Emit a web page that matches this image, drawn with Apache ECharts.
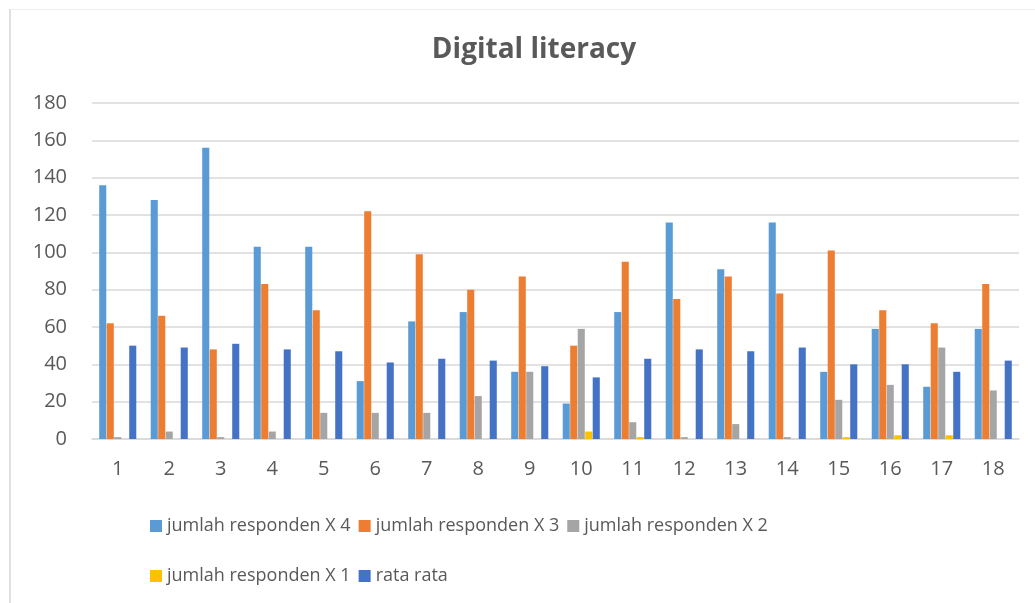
<!DOCTYPE html>
<html>
<head>
<meta charset="utf-8">
<script src="https://cdn.jsdelivr.net/npm/echarts@6/dist/echarts.min.js"></script>
<style>
  html, body { margin: 0; padding: 0; background: #fff; }
  #frame { position: absolute; left: 9px; top: 9px; right: 0; bottom: 0;
           border-left: 2px solid #e0e0e0; border-top: 1px solid #eeeeee; }
  #chart { position: absolute; left: 0; top: 0; width: 1035px; height: 603px; }
</style>
</head>
<body>
<div id="frame"></div>
<div id="chart"></div>
<script>
// categories (question number)
var categories = ['1', '2', '3', '4', '5', '6', '7', '8', '9', '10', '11', '12', '13', '14', '15', '16', '17', '18'];

// series values
var respX4 = [136, 128, 156, 103, 103, 31, 63, 68, 36, 19, 68, 116, 91, 116, 36, 59, 28, 59];
var respX3 = [62, 66, 48, 83, 69, 122, 99, 80, 87, 50, 95, 75, 87, 78, 101, 69, 62, 83];
var respX2 = [1, 4, 1, 4, 14, 14, 14, 23, 36, 59, 9, 1, 8, 1, 21, 29, 49, 26];
var respX1 = [0, 0, 0, 0, 0, 0, 0, 0, 0, 4, 1, 0, 0, 0, 1, 2, 2, 0];
var rataRata = [50, 49, 51, 48, 47, 41, 43, 42, 39, 33, 43, 48, 47, 49, 40, 40, 36, 42];

var names = ['jumlah responden X 4', 'jumlah responden X 3', 'jumlah responden X 2', 'jumlah responden X 1', 'rata rata'];
var colors = ['#5B9BD5', '#ED7D31', '#A5A5A5', '#FFC000', '#4472C4'];
var allData = [respX4, respX3, respX2, respX1, rataRata];

var textColor = '#595959';
var font = 'Open Sans';

var chartDom = document.getElementById('chart');
var myChart = echarts.init(chartDom);
var option;

var series = [];
for (var i = 0; i < names.length; i++) {
  series.push({
    name: names[i],
    type: 'bar',
    barGap: '6%',
    barCategoryGap: '28%',
    itemStyle: { color: colors[i] },
    data: allData[i]
  });
}

var legendText = { color: textColor, fontSize: 18, fontFamily: font };

option = {
  animation: false,
  color: colors,
  title: {
    text: 'Digital literacy',
    left: 529,
    textAlign: 'center',
    top: 31,
    textStyle: { color: textColor, fontSize: 28, fontWeight: 'bold', fontFamily: font }
  },
  legend: [
    {
      left: 145,
      top: 512,
      itemWidth: 12,
      itemHeight: 12,
      itemGap: 8,
      icon: 'rect',
      textStyle: legendText,
      data: names.slice(0, 3)
    },
    {
      left: 145,
      top: 562,
      itemWidth: 12,
      itemHeight: 12,
      itemGap: 8,
      icon: 'rect',
      textStyle: legendText,
      data: names.slice(3)
    }
  ],
  grid: {
    left: 92,
    right: 16,
    top: 103,
    bottom: 164
  },
  xAxis: {
    type: 'category',
    data: categories,
    axisTick: { show: false },
    axisLine: { lineStyle: { color: '#d9d9d9', width: 1.5 } },
    axisLabel: { color: textColor, fontSize: 20, fontFamily: font, margin: 20 }
  },
  yAxis: {
    type: 'value',
    min: 0,
    max: 180,
    interval: 20,
    axisLine: { show: false },
    axisTick: { show: false },
    splitLine: { lineStyle: { color: '#d9d9d9', width: 1.5 } },
    axisLabel: { color: textColor, fontSize: 20, fontFamily: font, margin: 25 }
  },
  series: series
};

option && myChart.setOption(option);
</script>
</body>
</html>
